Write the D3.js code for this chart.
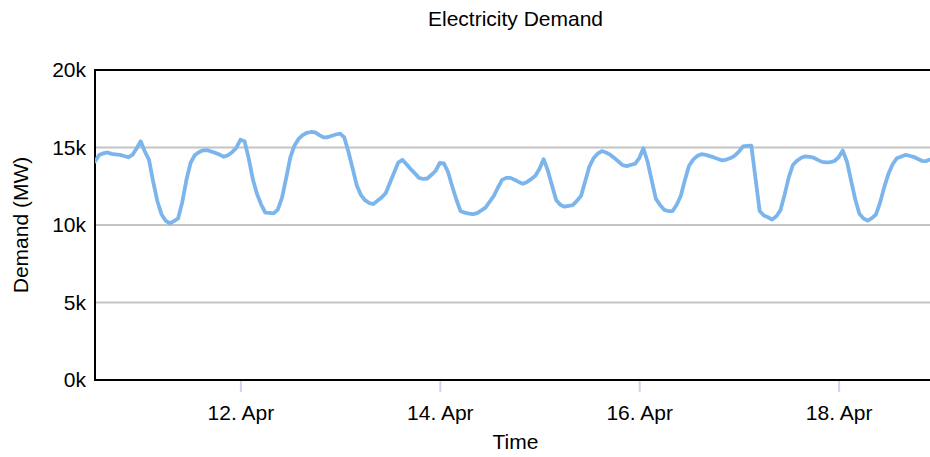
<!DOCTYPE html>
<html>
<head>
<meta charset="utf-8">
<script src="https://cdn.jsdelivr.net/npm/d3@7"></script>
<style>
  html, body { margin: 0; padding: 0; background: #fff; }
  svg { display: block; font-family: "Liberation Sans", Arial, Helvetica, sans-serif; }
</style>
</head>
<body>
<svg id="chart" width="930" height="457"></svg>
<script>
// ---- data ----
const chartTitle = "Electricity Demand";
const xAxisTitle = "Time";
const yAxisTitle = "Demand (MW)";
const startTime = "2023-04-10T13:00:00Z";   // first hourly reading
const endTime = "2023-04-18T22:00:00Z";     // right end of the time axis
const stepHours = 1;
// hourly demand in MW
const demand = [
  14100, 14520, 14620, 14680, 14590, 14550, 14520, 14450, 14370, 14520,
  14940, 15400, 14740, 14200, 12800, 11550, 10700, 10280, 10100, 10250,
  10420, 11470, 12900, 14000, 14500, 14700, 14820, 14830, 14740, 14650,
  14540, 14400, 14500, 14700, 14970, 15500, 15400, 14300, 12950, 12000,
  11320, 10800, 10780, 10750, 10990, 11750, 13000, 14350, 15120, 15550,
  15800, 15950, 16000, 15970, 15800, 15650, 15660, 15760, 15840, 15900,
  15650, 14720, 13660, 12570, 11940, 11600, 11420, 11350, 11560, 11770,
  12070, 12720, 13380, 14030, 14200, 13920, 13600, 13330, 13040, 12970,
  13000, 13240, 13500, 14000, 13970, 13400, 12480, 11630, 10890, 10800,
  10730, 10700, 10770, 10940, 11120, 11500, 11880, 12420, 12910, 13040,
  13040, 12920, 12780, 12660, 12780, 12960, 13180, 13630, 14250, 13520,
  12560, 11620, 11310, 11180, 11230, 11280, 11560, 11880, 12820, 13770,
  14300, 14600, 14770, 14680, 14540, 14330, 14100, 13860, 13800, 13880,
  13950, 14310, 14950, 14100, 12900, 11700, 11300, 10980, 10900, 10900,
  11290, 11870, 12900, 13820, 14220, 14460, 14570, 14520, 14440, 14360,
  14260, 14170, 14220, 14320, 14480, 14730, 15070, 15110, 15120, 13000,
  10900, 10610, 10500, 10350, 10560, 10950, 11960, 13070, 13870, 14150,
  14340, 14430, 14390, 14340, 14200, 14070, 14040, 14060, 14130, 14370,
  14800, 14100, 12860, 11660, 10720, 10420, 10280, 10440, 10680, 11460,
  12460, 13300, 13920, 14300, 14410, 14520, 14470, 14400, 14270, 14140,
  14120, 14220
];
const yTicks = [0, 5000, 10000, 15000, 20000];
const yTickLabels = ["0k", "5k", "10k", "15k", "20k"];
const xTickDates = ["2023-04-12T00:00:00Z", "2023-04-14T00:00:00Z", "2023-04-16T00:00:00Z", "2023-04-18T00:00:00Z"];
const xTickLabels = ["12. Apr", "14. Apr", "16. Apr", "18. Apr"];

// ---- layout ----
const W = 930, H = 457;
const m = { left: 95, right: 0, top: 70, bottom: 77 };
const FS = 21;
const svg = d3.select("#chart");
const t0 = new Date(startTime);
const series = demand.map((v, i) => ({ t: new Date(t0.getTime() + i * stepHours * 3600000), v }));

const x = d3.scaleUtc().domain([t0, new Date(endTime)]).range([m.left, W - m.right]);
const y = d3.scaleLinear().domain([0, 20000]).range([H - m.bottom, m.top]);

svg.append("defs").append("clipPath").attr("id", "clip")
  .append("rect").attr("x", m.left).attr("y", m.top - 5)
  .attr("width", W - m.right - m.left).attr("height", H - m.bottom - m.top + 10);

// gridlines
svg.append("g").selectAll("line").data(yTicks.filter(d => d > 0 && d < 20000)).join("line")
  .attr("x1", m.left).attr("x2", W - m.right)
  .attr("y1", d => y(d)).attr("y2", d => y(d))
  .attr("stroke", "#c4c4c4").attr("stroke-width", 2);

// y axis labels
const yAxis = d3.axisLeft(y).tickValues(yTicks).tickFormat((d, i) => yTickLabels[i]).tickSize(0).tickPadding(9);
const gy = svg.append("g").attr("transform", `translate(${m.left},0)`).call(yAxis);
gy.select(".domain").remove();
gy.selectAll("text").attr("font-size", FS).attr("fill", "#000").attr("font-family", "Liberation Sans, Arial, sans-serif");

// x axis
const xAxis = d3.axisBottom(x).tickValues(xTickDates.map(d => new Date(d)))
  .tickFormat((d, i) => xTickLabels[i]).tickSize(12).tickPadding(13);
const gx = svg.append("g").attr("transform", `translate(0,${H - m.bottom})`).call(xAxis);
gx.select(".domain").remove();
gx.selectAll("line").attr("stroke", "#ccd6eb").attr("stroke-width", 2);
gx.selectAll("text").attr("font-size", FS).attr("fill", "#000").attr("font-family", "Liberation Sans, Arial, sans-serif");

// frame: left, top, bottom
svg.append("path")
  .attr("d", `M${W - m.right},${m.top}H${m.left}V${H - m.bottom}H${W - m.right}`)
  .attr("fill", "none").attr("stroke", "#000").attr("stroke-width", 2);

// line
const line = d3.line().x(d => x(d.t)).y(d => y(d.v)).curve(d3.curveLinear);
svg.append("path").datum(series).attr("clip-path", "url(#clip)")
  .attr("d", line).attr("fill", "none").attr("stroke", "#7cb5ec")
  .attr("stroke-width", 3.8).attr("stroke-linejoin", "round").attr("stroke-linecap", "round");

// titles
svg.append("text").attr("x", (m.left + W - m.right) / 2 + 3).attr("y", 26)
  .attr("text-anchor", "middle").attr("font-size", FS).text(chartTitle);
svg.append("text").attr("x", (m.left + W - m.right) / 2 + 3).attr("y", 449)
  .attr("text-anchor", "middle").attr("font-size", FS).text(xAxisTitle);
svg.append("text").attr("transform", `translate(28,${(m.top + H - m.bottom) / 2}) rotate(-90)`)
  .attr("text-anchor", "middle").attr("font-size", FS).text(yAxisTitle);
</script>
</body>
</html>
